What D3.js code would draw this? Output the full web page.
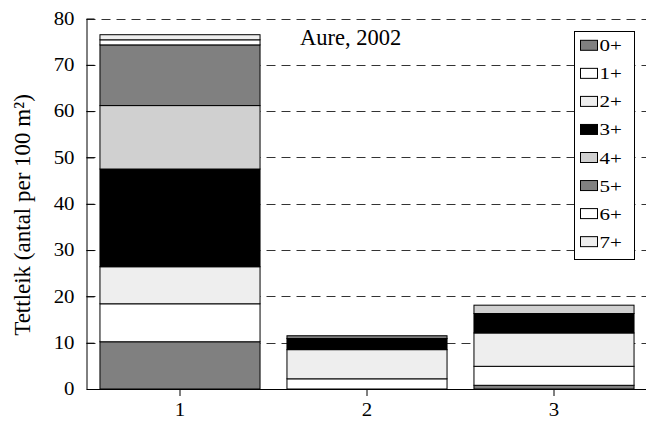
<!DOCTYPE html>
<html>
<head>
<meta charset="utf-8">
<script src="https://cdn.jsdelivr.net/npm/d3@7"></script>
<style>
  html, body { margin: 0; padding: 0; background: #fff; }
  svg text { font-family: "Liberation Serif", "Times New Roman", serif; fill: #000; }
</style>
</head>
<body>
<svg id="chart" width="646" height="421"></svg>
<script>
// Stations along the x axis
const stations = ["1", "2", "3"];
// Age classes, stacked bottom to top
const ageClasses = ["0+", "1+", "2+", "3+", "4+", "5+", "6+", "7+"];
// Density (antal per 100 m²) for each age class, one value per station
const age0 = [10.2, 0.0, 0.8];
const age1 = [8.2, 2.2, 4.1];
const age2 = [8.0, 6.3, 7.2];
const age3 = [21.1, 2.4, 4.2];
const age4 = [13.7, 0.0, 1.8];
const age5 = [13.1, 0.6, 0.0];
const age6 = [1.1, 0.0, 0.0];
const age7 = [1.1, 0.0, 0.0];
const classFills = ["#808080", "#ffffff", "#eeeeee", "#000000", "#d0d0d0", "#808080", "#ffffff", "#eeeeee"];
const yTicks = [0, 10, 20, 30, 40, 50, 60, 70, 80];
const gridTicks = [10, 20, 30, 40, 50, 60, 70, 80];
const titleText = "Aure, 2002";
const yLabel = "Tettleik (antal per 100 m²)";

const seriesValues = [age0, age1, age2, age3, age4, age5, age6, age7];
const rows = stations.map((s, i) => {
  const r = { station: s };
  ageClasses.forEach((k, j) => { r[k] = seriesValues[j][i]; });
  return r;
});

const svg = d3.select("#chart");
const plotLeft = 86.5, plotRight = 647.5, plotTop = 18.5, plotBottom = 389;

const x = d3.scaleBand().domain(stations).range([plotLeft, plotRight])
  .paddingInner(0.144).paddingOuter(0.072);
const y = d3.scaleLinear().domain([0, 80]).range([plotBottom, plotTop]);
const color = d3.scaleOrdinal().domain(ageClasses).range(classFills);

// widen a text horizontally about its own anchor point
function widen(sel, k) {
  sel.attr("transform", function () {
    const ax = +(this.getAttribute("x") || 0);
    return `translate(${ax},0) scale(${k},1) translate(${-ax},0)`;
  });
}

// dashed horizontal gridlines behind the bars
svg.append("g").selectAll("line").data(gridTicks).join("line")
  .attr("x1", plotLeft).attr("x2", 646)
  .attr("y1", d => Math.round(y(d)) + 0.5).attr("y2", d => Math.round(y(d)) + 0.5)
  .attr("stroke", "#333").attr("stroke-width", 1)
  .attr("stroke-dasharray", "9,6");

// stacked bars
const stacked = d3.stack().keys(ageClasses)(rows);
svg.append("g").selectAll("g").data(stacked).join("g")
  .attr("fill", d => color(d.key))
  .selectAll("rect").data(d => d.filter(p => p[1] - p[0] > 0)).join("rect")
  .attr("x", d => x(d.data.station))
  .attr("width", x.bandwidth())
  .attr("y", d => y(d[1]))
  .attr("height", d => y(d[0]) - y(d[1]))
  .attr("stroke", "#000").attr("stroke-width", 1);

// y axis: ticks pointing inward, labels on the left
const yAxis = svg.append("g").attr("transform", `translate(${plotLeft},0)`)
  .call(d3.axisLeft(y).tickValues(yTicks).tickSizeInner(-8).tickSizeOuter(0).tickPadding(12));
yAxis.selectAll("text").style("font-size", "18px").call(widen, 1.16);

// x axis
const xAxis = svg.append("g").attr("transform", `translate(0,${plotBottom})`)
  .call(d3.axisBottom(x).tickSizeInner(7).tickSizeOuter(0).tickPadding(7));
xAxis.selectAll("text").style("font-size", "18px").call(widen, 1.16);
svg.selectAll(".domain").attr("stroke", "#000");
svg.selectAll(".tick line").attr("stroke", "#000");

// title inside the plot
svg.append("text").attr("x", 300).attr("y", 45)
  .style("font-size", "22.5px").text(titleText);

// y axis title
svg.append("text")
  .attr("transform", "translate(30,215) rotate(-90)")
  .attr("text-anchor", "middle")
  .style("font-size", "23px")
  .text(yLabel);

// legend
const legend = svg.append("g");
legend.append("rect").attr("x", 574.5).attr("y", 31.5).attr("width", 60).attr("height", 228)
  .attr("fill", "#fff").attr("stroke", "#000");
const item = legend.selectAll("g.item").data(ageClasses).join("g")
  .attr("class", "item")
  .attr("transform", (d, i) => `translate(580.5,${45.3 + i * 28.05})`);
item.append("rect").attr("x", 0).attr("y", -5).attr("width", 17).attr("height", 10)
  .attr("fill", d => color(d)).attr("stroke", "#000");
item.append("text").attr("x", 19).attr("y", 6).style("font-size", "17.5px").text(d => d)
  .call(widen, 1.2);
</script>
</body>
</html>
